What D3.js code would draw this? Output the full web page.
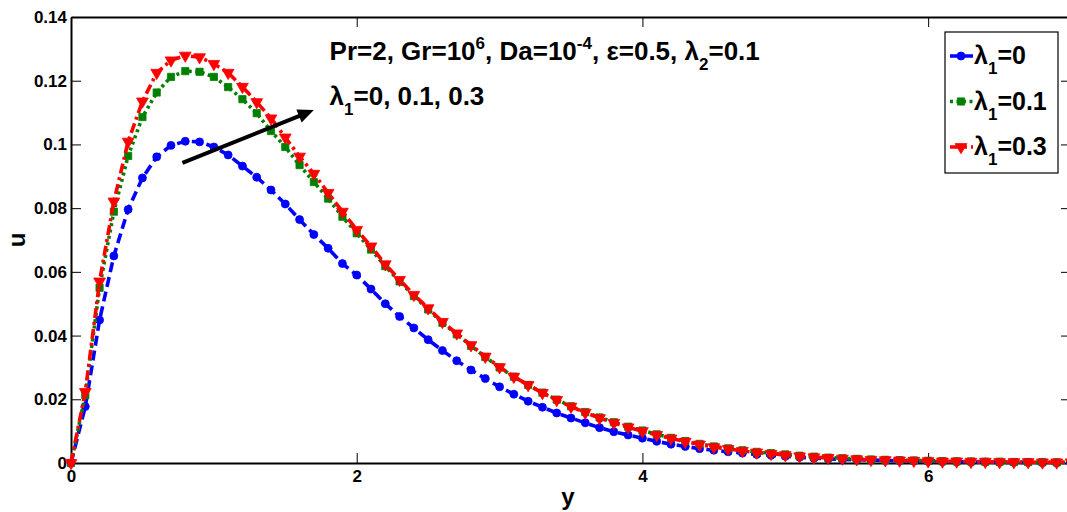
<!DOCTYPE html>
<html>
<head>
<meta charset="utf-8">
<script src="https://cdn.jsdelivr.net/npm/d3@7"></script>
<style>
    body { margin: 0; background: #fff; }
    text { font-family: "Liberation Sans", Arial, sans-serif; font-weight: bold; fill: #000; }
</style>
</head>
<body>
<svg id="chart" width="1067" height="512"></svg>
<script>
// sampling grid along y (step 0.1, 0 .. 7)
const yGrid = d3.range(71).map(i => i / 10);

// u(y) for lambda1 = 0
const uLambda0 = [
    0, 0.0177, 0.0449, 0.0650, 0.0796, 0.0895, 0.0961, 0.0997, 0.1010, 0.1008,
    0.0992, 0.0967, 0.0932, 0.0897, 0.0857, 0.0813, 0.0764, 0.0717, 0.0674, 0.0626,
    0.0590, 0.0546, 0.0500, 0.0460, 0.0424, 0.0387, 0.0353, 0.0321, 0.0292, 0.0265,
    0.0239, 0.0216, 0.0194, 0.0175, 0.0157, 0.0141, 0.0126, 0.0111, 0.0098, 0.0088,
    0.0078, 0.0068, 0.0059, 0.0052, 0.0045, 0.0040, 0.0035, 0.0031, 0.0027, 0.0024,
    0.0021, 0.0018, 0.0015, 0.0013, 0.0011, 0.0010, 0.0009, 0.0008, 0.0007, 0.0006,
    0.0005, 0.0004, 0.0004, 0.0003, 0.0003, 0.0002, 0.0002, 0.0002, 0.0001, 0.0001,
    0.0001
];

// u(y) for lambda1 = 0.1
const uLambda01 = [
    0, 0.0213, 0.0550, 0.0789, 0.0964, 0.1086, 0.1163, 0.1212, 0.1230, 0.1228,
    0.1212, 0.1180, 0.1142, 0.1098, 0.1042, 0.0992, 0.0935, 0.0882, 0.0830, 0.0773,
    0.0721, 0.0670, 0.0618, 0.0570, 0.0524, 0.0482, 0.0440, 0.0404, 0.0368, 0.0333,
    0.0300, 0.0271, 0.0245, 0.0221, 0.0199, 0.0178, 0.0160, 0.0143, 0.0128, 0.0114,
    0.0102, 0.0090, 0.0079, 0.0069, 0.0060, 0.0052, 0.0046, 0.0040, 0.0035, 0.0031,
    0.0027, 0.0023, 0.0020, 0.0017, 0.0015, 0.0013, 0.0011, 0.0010, 0.0009, 0.0008,
    0.0007, 0.0006, 0.0005, 0.0005, 0.0004, 0.0004, 0.0003, 0.0003, 0.0003, 0.0002,
    0.0002
];

// u(y) for lambda1 = 0.3
const uLambda03 = [
    0, 0.0223, 0.0570, 0.0821, 0.1009, 0.1135, 0.1225, 0.1264, 0.1279, 0.1274,
    0.1253, 0.1225, 0.1181, 0.1133, 0.1082, 0.1022, 0.0962, 0.0908, 0.0848, 0.0789,
    0.0732, 0.0680, 0.0624, 0.0575, 0.0528, 0.0486, 0.0443, 0.0407, 0.0370, 0.0334,
    0.0301, 0.0271, 0.0245, 0.0220, 0.0198, 0.0177, 0.0158, 0.0141, 0.0126, 0.0112,
    0.0100, 0.0088, 0.0077, 0.0067, 0.0058, 0.0050, 0.0044, 0.0038, 0.0033, 0.0029,
    0.0025, 0.0021, 0.0018, 0.0016, 0.0014, 0.0012, 0.0010, 0.0009, 0.0008, 0.0007,
    0.0006, 0.0005, 0.0005, 0.0004, 0.0004, 0.0003, 0.0003, 0.0003, 0.0002, 0.0002,
    0.0002
];

const lambdaValues = ["0", "0.1", "0.3"];
const xTicks = [0, 2, 4, 6];
const yTicks = [0, 0.02, 0.04, 0.06, 0.08, 0.1, 0.12, 0.14];
const yTickLabels = ["0", "0.02", "0.04", "0.06", "0.08", "0.1", "0.12", "0.14"];

// annotation: arrow start/end (data coords) and text anchors
const arrowFrom = [0.78, 0.0942];
const arrowTo = [1.70, 0.1108];
const noteLine1 = [1.81, 0.1265];
const noteLine2 = [1.81, 0.1124];

const svg = d3.select("#chart");
const mLeft = 71, mRight = 1071, mTop = 17, mBottom = 463;

const x = d3.scaleLinear().domain([0, 7]).range([mLeft, mRight]);
const y = d3.scaleLinear().domain([0, 0.14]).range([mBottom, mTop]);

const series = [
    { values: uLambda0, color: "#0000ff", dash: "10,5", symbol: d3.symbolCircle, size: 50, rot: 0 },
    { values: uLambda01, color: "#008000", dash: "3,3.5", symbol: d3.symbolSquare, size: 52, rot: 0 },
    { values: uLambda03, color: "#ff0000", dash: "10,4,3,4", symbol: d3.symbolTriangle, size: 60, rot: 180 }
];

svg.append("defs").append("clipPath").attr("id", "plotclip")
    .append("rect").attr("x", mLeft - 8).attr("y", mTop - 8)
    .attr("width", mRight - mLeft + 16).attr("height", mBottom - mTop + 16);

// axes (ticks point inward on all four sides)
const fontTick = "17px";
const axB = svg.append("g").attr("transform", "translate(0," + mBottom + ")")
    .call(d3.axisBottom(x).tickValues(xTicks).tickSizeInner(-10).tickSizeOuter(0).tickPadding(7).tickFormat(d3.format("d")));
const axT = svg.append("g").attr("transform", "translate(0," + mTop + ")")
    .call(d3.axisTop(x).tickValues(xTicks).tickSizeInner(-10).tickSizeOuter(0).tickFormat(""));
const axL = svg.append("g").attr("transform", "translate(" + mLeft + ",0)")
    .call(d3.axisLeft(y).tickValues(yTicks).tickSizeInner(-10).tickSizeOuter(0).tickPadding(4)
        .tickFormat((d, i) => yTickLabels[i]));
const axR = svg.append("g").attr("transform", "translate(" + mRight + ",0)")
    .call(d3.axisRight(y).tickValues(yTicks).tickSizeInner(-10).tickSizeOuter(0).tickFormat(""));

[axB, axT, axL, axR].forEach(a => {
    a.select(".domain").attr("stroke", "#000").attr("stroke-width", 2);
    a.selectAll(".tick line").attr("stroke", "#000").attr("stroke-width", 1);
    a.selectAll("text").style("font-size", fontTick);
    a.attr("font-family", null).attr("font-size", null);
});

// curves
const line = d3.line().x((d, i) => x(yGrid[i])).y(d => y(d));
const plot = svg.append("g").attr("clip-path", "url(#plotclip)");

series.forEach(s => {
    plot.append("path")
        .attr("d", line(s.values))
        .attr("fill", "none")
        .attr("stroke", s.color)
        .attr("stroke-width", 3.6)
        .attr("stroke-dasharray", s.dash);
    plot.append("g").selectAll("path")
        .data(s.values)
        .join("path")
        .attr("d", d3.symbol().type(s.symbol).size(s.size)())
        .attr("transform", (d, i) => "translate(" + x(yGrid[i]) + "," + y(d) + ") rotate(" + s.rot + ")")
        .attr("fill", s.color)
        .attr("stroke", s.color)
        .attr("stroke-width", 0.8);
});

// axis labels
svg.append("text")
    .attr("x", (mLeft + mRight) / 2 - 3).attr("y", 505)
    .attr("text-anchor", "middle")
    .style("font-size", "24px")
    .text("y");
svg.append("text")
    .attr("transform", "translate(25," + ((mTop + mBottom) / 2) + ") rotate(-90)")
    .attr("text-anchor", "middle")
    .style("font-size", "24px")
    .text("u");

// annotation arrow
const ax0 = x(arrowFrom[0]), ay0 = y(arrowFrom[1]);
const ax1 = x(arrowTo[0]), ay1 = y(arrowTo[1]);
const ang = Math.atan2(ay1 - ay0, ax1 - ax0);
const headLen = 16, headW = 7;
svg.append("line")
    .attr("x1", ax0).attr("y1", ay0)
    .attr("x2", ax1 - headLen * 0.8 * Math.cos(ang)).attr("y2", ay1 - headLen * 0.8 * Math.sin(ang))
    .attr("stroke", "#000").attr("stroke-width", 4);
const bx = ax1 - headLen * Math.cos(ang), by = ay1 - headLen * Math.sin(ang);
svg.append("path")
    .attr("d", "M" + ax1 + "," + ay1 +
        "L" + (bx + headW * Math.sin(ang)) + "," + (by - headW * Math.cos(ang)) +
        "L" + (bx - headW * Math.sin(ang)) + "," + (by + headW * Math.cos(ang)) + "Z")
    .attr("fill", "#000");

// annotation text
const t1 = svg.append("text")
    .attr("x", x(noteLine1[0])).attr("y", y(noteLine1[1]))
    .style("font-size", "26px");
t1.append("tspan").text("Pr=2, Gr=10");
t1.append("tspan").attr("dy", -11).style("font-size", "17px").text("6");
t1.append("tspan").attr("dy", 11).text(", Da=10");
t1.append("tspan").attr("dy", -11).style("font-size", "17px").text("-4");
t1.append("tspan").attr("dy", 11).text(", ε=0.5, λ");
t1.append("tspan").attr("dy", 10).style("font-size", "17px").text("2");
t1.append("tspan").attr("dy", -10).text("=0.1");

const t2 = svg.append("text")
    .attr("x", x(noteLine2[0])).attr("y", y(noteLine2[1]))
    .style("font-size", "26px");
t2.append("tspan").text("λ");
t2.append("tspan").attr("dy", 10).style("font-size", "17px").text("1");
t2.append("tspan").attr("dy", -10).text("=" + lambdaValues.join(", "));

// legend
const legend = svg.append("g").attr("transform", "translate(945,32)");
legend.append("rect")
    .attr("width", 113).attr("height", 141)
    .attr("fill", "#fff").attr("stroke", "#000").attr("stroke-width", 1.2);

series.forEach((s, i) => {
    const row = legend.append("g").attr("transform", "translate(0," + (24 + i * 45.5) + ")");
    row.append("line")
        .attr("x1", 5).attr("x2", 28).attr("y1", 0).attr("y2", 0)
        .attr("stroke", s.color).attr("stroke-width", 3.6)
        .attr("stroke-dasharray", s.dash);
    row.append("path")
        .attr("d", d3.symbol().type(s.symbol).size(s.size)())
        .attr("transform", "translate(16,0) rotate(" + s.rot + ")")
        .attr("fill", s.color).attr("stroke", s.color).attr("stroke-width", 0.8);
    const t = row.append("text").attr("x", 29).attr("y", 8).style("font-size", "25px");
    t.append("tspan").text("λ");
    t.append("tspan").attr("dy", 10).style("font-size", "17px").text("1");
    t.append("tspan").attr("dy", -10).text("=" + lambdaValues[i]);
});
</script>
</body>
</html>
